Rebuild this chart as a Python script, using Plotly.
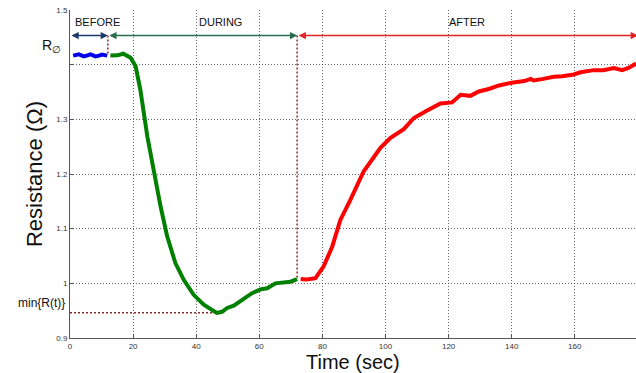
import plotly.graph_objects as go

# ---- data ----
t_before = [1.0, 2.0, 2.8, 3.6, 4.4, 5.5, 6.5, 7.3, 8.1, 9.2, 10.2, 11.0, 11.8]
v_before = [1.4165, 1.4185, 1.419, 1.417, 1.415, 1.417, 1.419, 1.417, 1.415, 1.4165, 1.4185, 1.4175, 1.4165]

t_during = [12.8, 15.0, 16.9, 18.5, 19.2, 20.8, 22.3, 24.5, 26.9, 28.7, 30.8, 33.4, 36.1, 39.2,
            42.4, 45.1, 46.5, 48.2, 49.8, 51.9, 54.6, 57.7, 60.4, 62.5, 65.1, 67.8, 69.9, 72.0]
v_during = [1.4167, 1.417, 1.420, 1.416, 1.4125, 1.397, 1.354, 1.269, 1.19, 1.141, 1.086, 1.037,
            1.006, 0.979, 0.961, 0.950, 0.946, 0.948, 0.955, 0.959, 0.970, 0.982, 0.989, 0.991,
            1.000, 1.0015, 1.003, 1.0077]

t_after = [73.1, 75.0, 77.8, 80.4, 83.1, 85.7, 88.9, 93.1, 98.4, 101.6, 105.8, 109.0, 113.2, 117.4,
           121.1, 123.8, 126.9, 129.6, 133.0, 136.0, 140.0, 144.0, 146.0, 147.0, 150.0, 153.3, 156.0,
           159.7, 161.8, 166.0, 169.0, 172.4, 175.0, 177.0, 179.4]
v_after = [1.0077, 1.007, 1.0095, 1.031, 1.067, 1.116, 1.153, 1.205, 1.248, 1.266, 1.282, 1.3025,
           1.316, 1.329, 1.331, 1.345, 1.343, 1.351, 1.356, 1.362, 1.367, 1.370, 1.374, 1.371, 1.374,
           1.378, 1.379, 1.382, 1.386, 1.390, 1.390, 1.394, 1.390, 1.394, 1.402]

phase_names = ["BEFORE", "DURING", "AFTER"]
phase_bounds = [0, 12, 72, 180]
phase_label_x = [8.6, 47.7, 125.7]
arrow_y = 1.4533
label_y = 1.478

x_ticks = [0, 20, 40, 60, 80, 100, 120, 140, 160, 180]
y_ticks = [0.9, 1.0, 1.1, 1.2, 1.3, 1.5]
y_ticktext = ["0.9", "1", "1.1", "1.2", "1.3", "1.5"]
y_unlabelled_ticks = [1.4]

r0_value = 1.435
minlabel_value = 0.964

# ---- styles ----
arrow_colors = ["#1b3a6b", "#2b6b4c", "#e02222"]
guide_color = "#8b2a2a"
FONT = "Liberation Sans, Arial"

fig = go.Figure()

v_min = min(v_during)
t_min = t_during[v_during.index(v_min)]

# guides
fig.add_trace(go.Scatter(x=[phase_bounds[1], phase_bounds[1]], y=[arrow_y, v_during[0]],
                         mode="lines", line=dict(color=guide_color, width=1.5, dash="2px,2px"),
                         showlegend=False, hoverinfo="skip"))
fig.add_trace(go.Scatter(x=[phase_bounds[2], phase_bounds[2]], y=[arrow_y, v_during[-1]],
                         mode="lines", line=dict(color=guide_color, width=1.5, dash="2px,2px"),
                         showlegend=False, hoverinfo="skip"))
fig.add_trace(go.Scatter(x=[0, t_min], y=[v_min, v_min],
                         mode="lines", line=dict(color=guide_color, width=1.5, dash="2px,2px"),
                         showlegend=False, hoverinfo="skip"))

fig.add_trace(go.Scatter(x=t_before, y=v_before, mode="lines",
                         line=dict(color="#0000ee", width=4), showlegend=False))
fig.add_trace(go.Scatter(x=t_during, y=v_during, mode="lines",
                         line=dict(color="#008000", width=4), showlegend=False))
fig.add_trace(go.Scatter(x=t_after, y=v_after, mode="lines",
                         line=dict(color="#ff0000", width=4), showlegend=False))

annotations = []
for i, name in enumerate(phase_names):
    annotations.append(dict(x=phase_bounds[i + 1], y=arrow_y, ax=phase_bounds[i], ay=arrow_y,
                            xref="x", yref="y", axref="x", ayref="y", text="",
                            showarrow=True, arrowhead=2, arrowside="end+start",
                            arrowsize=0.9, arrowwidth=1.6, arrowcolor=arrow_colors[i],
                            standoff=0, startstandoff=0))
    annotations.append(dict(x=phase_label_x[i], y=label_y, xref="x", yref="y", text=name,
                            showarrow=False, font=dict(family=FONT, size=11, color="#111")))

annotations.append(dict(x=-0.012, y=r0_value, xref="paper", yref="y", xanchor="right",
                        text="R<sub>∅</sub>", showarrow=False,
                        font=dict(family=FONT, size=14, color="#111")))
annotations.append(dict(x=-0.005, y=minlabel_value, xref="paper", yref="y", xanchor="right",
                        text="min{R(t)}", showarrow=False,
                        font=dict(family=FONT, size=12, color="#111")))
# x-axis title
annotations.append(dict(x=0.5, y=0, xref="paper", yref="paper", yshift=-23.5, yanchor="middle",
                        text="Time (sec)", showarrow=False, borderpad=0,
                        font=dict(family=FONT, size=20, color="#111")))

grid = dict(showgrid=True, gridcolor="rgba(40,40,40,0.7)", gridwidth=1, griddash="1px,2px")

fig.update_layout(
    width=636, height=373,
    margin=dict(l=70, r=0, t=10, b=35),
    plot_bgcolor="white", paper_bgcolor="white",
    annotations=annotations,
    font=dict(family=FONT, color="#222"),
    xaxis=dict(range=[0, 179.4], tickvals=x_ticks, ticks="inside", ticklen=4, tickcolor="#555",
               showline=True, linecolor="#555", linewidth=1, zeroline=False,
               tickfont=dict(size=8, color="#333"),
               **grid),
    yaxis=dict(range=[0.9, 1.5], tickvals=y_ticks, ticktext=y_ticktext, ticks="inside", ticklen=4,
               tickcolor="#555", showline=True, linecolor="#555", linewidth=1, zeroline=False,
               tickfont=dict(size=8, color="#333"),
               minor=dict(tickvals=y_unlabelled_ticks, ticks="inside", ticklen=4, tickcolor="#555",
                          **grid),
               title=dict(text="Resistance (Ω)", font=dict(size=22, color="#111"), standoff=7),
               **grid),
)

fig.write_html("out.html")
